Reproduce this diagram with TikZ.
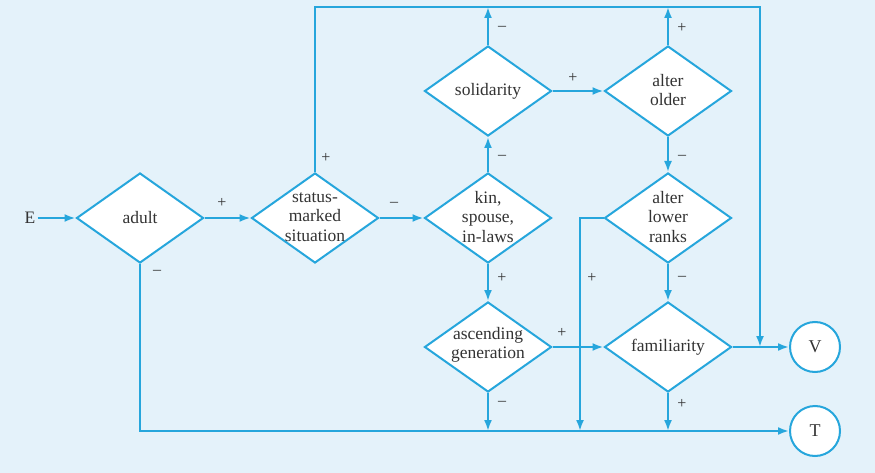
\documentclass[tikz,border=0pt]{standalone}
\usepackage{fontspec}
\setmainfont{Liberation Serif}
\usetikzlibrary{shapes.geometric,arrows.meta}
\definecolor{bg}{RGB}{228,242,250}
\definecolor{ln}{RGB}{38,166,220}
\begin{document}
\begin{tikzpicture}[x=1pt,y=-1pt,
 dia/.style={diamond,draw=ln,fill=white,line width=2pt,minimum width=127pt,minimum height=90pt,inner sep=0pt},
 txt/.style={font=\fontsize{17.5}{19.5}\selectfont,align=center,text=black!80},
 term/.style={circle,draw=ln,fill=white,line width=2pt,minimum size=50pt,inner sep=0pt,font=\fontsize{18}{19}\selectfont,text=black!80},
 arr/.style={draw=ln,line width=2pt,-{Latex[length=11pt,width=8pt]}},
 con/.style={draw=ln,line width=2pt},
 sg/.style={font=\fontsize{16}{16}\selectfont,text=black!80,inner sep=0pt}]
\useasboundingbox (0,0) rectangle (875,473);
\fill[bg] (0,0) rectangle (875,473);

% diamonds
\node[dia] (adult) at (140,218) {};
\node[dia] (status) at (315,218) {};
\node[dia] (kin) at (488,218) {};
\node[dia] (solid) at (488,91) {};
\node[dia] (older) at (668,91) {};
\node[dia] (lower) at (668,218) {};
\node[dia] (asc) at (488,347) {};
\node[dia] (fam) at (668,347) {};
\node[term] (V) at (815,347) {V};
\node[term] (T) at (815,431) {T};
\node[txt,inner sep=2pt] (E) at (30,218) {E};

% texts
\node[txt] (tadult) at (adult) {adult};
\node[txt] (tstatus) at (315,217) {status-\\marked\\situation};
\node[txt] (tkin) at (488,217) {kin,\\spouse,\\in-laws};
\node[txt] (tsolid) at (solid) {solidarity};
\node[txt] (tolder) at (668,90) {alter\\older};
\node[txt] (tlower) at (668,217) {alter\\lower\\ranks};
\node[txt] (tasc) at (488,345) {ascending\\generation};
\node[txt] (tfam) at (fam) {familiarity};

% coordinates
\coordinate (tr) at (760,7);
\coordinate (vj) at (760,347);
\coordinate (lb) at (580,431);

% connectors
\draw[arr] (E.east) -- (adult.west);
\draw[arr] (adult.east) -- (status.west);
\draw[arr] (status.east) -- (kin.west);
\draw[arr] (kin.north) -- (solid.south);
\draw[arr] (solid.east) -- (older.west);
\draw[arr] (older.south) -- (lower.north);
\draw[arr] (kin.south) -- (asc.north);
\draw[arr] (lower.south) -- (fam.north);
\draw[arr] (asc.east) -- (fam.west);
\draw[arr] (fam.east) -- (V.west);
\draw[arr] (status.north) |- (tr) -- (vj);
\draw[arr] (solid.north) -- (solid.north |- tr);
\draw[arr] (older.north) -- (older.north |- tr);
\draw[arr] (adult.south) |- (T.west);
\draw[arr] (asc.south) -- (asc.south |- T.west);
\draw[arr] (fam.south) -- (fam.south |- T.west);
\draw[arr] (lower.west) -| (lb);

% signs
\node[sg] (s1) at (222,203) {+};
\node[sg] (s2) at (157,272) {–};
\node[sg] (s3) at (394,204) {–};
\node[sg] (s4) at (326,158) {+};
\node[sg] (s5) at (502,157) {–};
\node[sg] (s6) at (502,28) {–};
\node[sg] (s7) at (573,78) {+};
\node[sg] (s8) at (682,28) {+};
\node[sg] (s9) at (682,157) {–};
\node[sg] (s10) at (502,278) {+};
\node[sg] (s11) at (592,278) {+};
\node[sg] (s12) at (682,278) {–};
\node[sg] (s13) at (562,333) {+};
\node[sg] (s14) at (502,403) {–};
\node[sg] (s15) at (682,404) {+};
\end{tikzpicture}
\end{document}
